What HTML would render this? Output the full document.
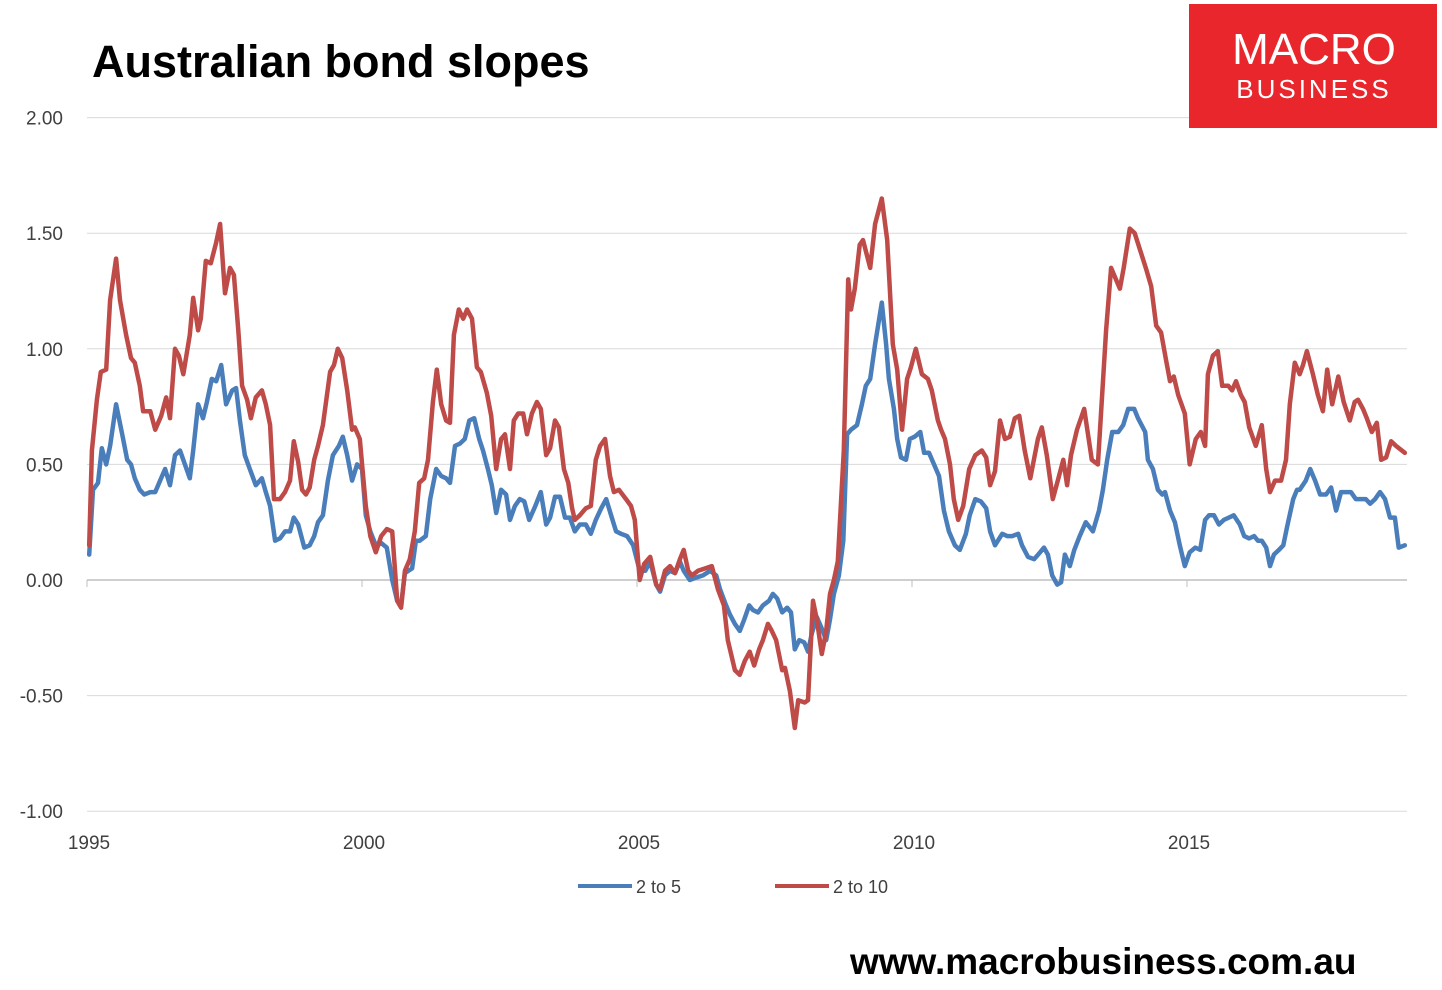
<!DOCTYPE html>
<html><head><meta charset="utf-8"><style>
html,body{margin:0;padding:0;background:#fff;}
body{width:1442px;height:990px;position:relative;overflow:hidden;font-family:"Liberation Sans",sans-serif;}
</style></head><body>
<svg id="chart" width="1442" height="990" xmlns="http://www.w3.org/2000/svg" style="position:absolute;left:0;top:0">
<text x="92" y="77" font-family="Liberation Sans, sans-serif" font-weight="bold" font-size="45" fill="#000">Australian bond slopes</text>
<g id="grid"></g><g id="yaxis"></g><g id="xaxis"></g><g id="series"></g>
<g>
<rect x="1189" y="4" width="248" height="124" fill="#e8262b"/>
<text x="1314" y="64" text-anchor="middle" font-size="44" fill="#fff" font-family="Liberation Sans, sans-serif">MACRO</text>
<text x="1314" y="98" text-anchor="middle" font-size="26" letter-spacing="3" fill="#fff" font-family="Liberation Sans, sans-serif">BUSINESS</text>
</g>
<g>
<line x1="578" y1="886" x2="632" y2="886" stroke="#4a7ebb" stroke-width="4"/>
<text x="636" y="893" font-size="18" fill="#404040">2 to 5</text>
<line x1="775" y1="886" x2="829" y2="886" stroke="#be4b48" stroke-width="4"/>
<text x="833" y="893" font-size="18" fill="#404040">2 to 10</text>
</g>
<text x="850" y="974" font-weight="bold" font-size="37" fill="#000">www.macrobusiness.com.au</text>
</svg>
<script>
const yTicks=[2,1.5,1,0.5,0,-0.5,-1];
const yTickLabels=["2.00","1.50","1.00","0.50","0.00","-0.50","-1.00"];
const xTicks=[1995,2000,2005,2010,2015];
const redDates=[1995.04,1995.09,1995.18,1995.25,1995.35,1995.42,1995.53,1995.60,1995.71,1995.80,1995.87,1995.96,1996.02,1996.15,1996.24,1996.35,1996.44,1996.51,1996.60,1996.67,1996.75,1996.87,1996.93,1997.02,1997.07,1997.16,1997.25,1997.35,1997.42,1997.51,1997.60,1997.67,1997.75,1997.82,1997.91,1997.98,1998.07,1998.18,1998.25,1998.33,1998.40,1998.51,1998.60,1998.69,1998.76,1998.84,1998.91,1998.98,1999.05,1999.13,1999.20,1999.29,1999.42,1999.49,1999.56,1999.64,1999.73,1999.82,1999.87,1999.96,2000.07,2000.15,2000.25,2000.35,2000.45,2000.55,2000.64,2000.71,2000.78,2000.87,2000.96,2001.04,2001.13,2001.20,2001.29,2001.36,2001.44,2001.53,2001.60,2001.67,2001.76,2001.84,2001.91,2002.00,2002.09,2002.16,2002.27,2002.35,2002.44,2002.53,2002.60,2002.69,2002.76,2002.84,2002.93,2003.00,2003.09,2003.18,2003.25,2003.35,2003.42,2003.51,2003.58,2003.67,2003.75,2003.82,2003.87,2003.96,2004.07,2004.16,2004.25,2004.33,2004.42,2004.51,2004.58,2004.67,2004.80,2004.89,2004.96,2005.05,2005.13,2005.24,2005.35,2005.42,2005.51,2005.60,2005.69,2005.78,2005.85,2005.93,2006.00,2006.11,2006.24,2006.36,2006.47,2006.58,2006.65,2006.78,2006.87,2006.96,2007.05,2007.13,2007.22,2007.29,2007.38,2007.45,2007.53,2007.64,2007.69,2007.78,2007.87,2007.93,2008.05,2008.11,2008.20,2008.27,2008.36,2008.44,2008.51,2008.58,2008.65,2008.76,2008.84,2008.89,2008.96,2009.05,2009.11,2009.24,2009.33,2009.45,2009.55,2009.65,2009.73,2009.82,2009.91,2009.98,2010.07,2010.18,2010.29,2010.36,2010.47,2010.53,2010.60,2010.69,2010.76,2010.84,2010.93,2011.04,2011.15,2011.27,2011.35,2011.42,2011.51,2011.60,2011.69,2011.78,2011.87,2011.95,2012.05,2012.15,2012.29,2012.36,2012.45,2012.56,2012.65,2012.75,2012.82,2012.89,2013.00,2013.13,2013.27,2013.38,2013.53,2013.62,2013.78,2013.85,2013.96,2014.05,2014.25,2014.35,2014.44,2014.53,2014.62,2014.69,2014.76,2014.84,2014.96,2015.05,2015.16,2015.25,2015.33,2015.38,2015.47,2015.56,2015.64,2015.75,2015.82,2015.89,2015.98,2016.05,2016.13,2016.25,2016.36,2016.44,2016.51,2016.60,2016.71,2016.80,2016.87,2016.96,2017.05,2017.11,2017.18,2017.29,2017.38,2017.47,2017.55,2017.64,2017.75,2017.85,2017.96,2018.05,2018.11,2018.20,2018.27,2018.36,2018.45,2018.53,2018.62,2018.71,2018.80,2018.96];
const redValues=[0.15,0.56,0.78,0.90,0.91,1.21,1.39,1.21,1.06,0.96,0.94,0.84,0.73,0.73,0.65,0.71,0.79,0.70,1.00,0.97,0.89,1.06,1.22,1.08,1.13,1.38,1.37,1.46,1.54,1.24,1.35,1.32,1.08,0.84,0.78,0.70,0.79,0.82,0.76,0.67,0.35,0.35,0.38,0.43,0.60,0.51,0.39,0.37,0.40,0.52,0.58,0.67,0.90,0.93,1.00,0.96,0.82,0.65,0.66,0.61,0.32,0.19,0.12,0.19,0.22,0.21,-0.09,-0.12,0.04,0.09,0.21,0.42,0.44,0.52,0.77,0.91,0.76,0.69,0.68,1.06,1.17,1.13,1.17,1.13,0.92,0.90,0.81,0.71,0.48,0.61,0.63,0.48,0.69,0.72,0.72,0.63,0.72,0.77,0.74,0.54,0.57,0.69,0.66,0.48,0.42,0.31,0.26,0.28,0.31,0.32,0.52,0.58,0.61,0.45,0.38,0.39,0.35,0.32,0.26,0.00,0.07,0.10,-0.02,-0.04,0.04,0.06,0.03,0.09,0.13,0.04,0.02,0.04,0.05,0.06,-0.04,-0.11,-0.26,-0.39,-0.41,-0.35,-0.31,-0.37,-0.30,-0.26,-0.19,-0.22,-0.26,-0.39,-0.38,-0.48,-0.64,-0.52,-0.53,-0.52,-0.09,-0.17,-0.32,-0.22,-0.06,0.00,0.08,0.56,1.30,1.17,1.26,1.45,1.47,1.35,1.54,1.65,1.47,1.02,0.91,0.65,0.87,0.92,1.00,0.89,0.87,0.82,0.69,0.65,0.61,0.50,0.35,0.26,0.32,0.48,0.54,0.56,0.53,0.41,0.47,0.69,0.61,0.62,0.70,0.71,0.56,0.44,0.61,0.66,0.54,0.35,0.43,0.52,0.41,0.54,0.65,0.74,0.52,0.50,1.08,1.35,1.26,1.35,1.52,1.50,1.35,1.27,1.10,1.07,0.95,0.86,0.88,0.80,0.72,0.50,0.61,0.64,0.58,0.89,0.97,0.99,0.84,0.84,0.82,0.86,0.80,0.77,0.66,0.58,0.67,0.48,0.38,0.43,0.43,0.52,0.76,0.94,0.89,0.93,0.99,0.89,0.80,0.73,0.91,0.76,0.88,0.77,0.69,0.77,0.78,0.74,0.70,0.64,0.68,0.52,0.53,0.60,0.58,0.55];
const blueDates=[1995.04,1995.11,1995.20,1995.27,1995.35,1995.42,1995.53,1995.64,1995.73,1995.80,1995.87,1995.96,1996.04,1996.15,1996.24,1996.33,1996.42,1996.51,1996.60,1996.69,1996.78,1996.87,1996.93,1997.02,1997.11,1997.18,1997.27,1997.35,1997.44,1997.53,1997.64,1997.71,1997.78,1997.87,1997.96,1998.07,1998.18,1998.25,1998.33,1998.42,1998.51,1998.60,1998.69,1998.76,1998.84,1998.95,1999.05,1999.13,1999.20,1999.29,1999.38,1999.47,1999.58,1999.65,1999.73,1999.82,1999.91,2000.00,2000.07,2000.15,2000.25,2000.35,2000.45,2000.55,2000.64,2000.71,2000.78,2000.91,2000.98,2001.05,2001.16,2001.24,2001.35,2001.44,2001.53,2001.60,2001.69,2001.78,2001.87,2001.95,2002.04,2002.13,2002.20,2002.29,2002.36,2002.44,2002.53,2002.62,2002.69,2002.78,2002.87,2002.95,2003.04,2003.15,2003.25,2003.35,2003.42,2003.51,2003.60,2003.69,2003.78,2003.87,2003.96,2004.07,2004.16,2004.25,2004.35,2004.44,2004.53,2004.62,2004.71,2004.82,2004.93,2005.05,2005.15,2005.24,2005.35,2005.42,2005.51,2005.60,2005.69,2005.78,2005.85,2005.96,2006.07,2006.20,2006.33,2006.44,2006.51,2006.62,2006.69,2006.78,2006.87,2006.95,2007.04,2007.11,2007.20,2007.29,2007.40,2007.47,2007.55,2007.64,2007.73,2007.80,2007.87,2007.95,2008.04,2008.11,2008.18,2008.27,2008.36,2008.44,2008.51,2008.58,2008.67,2008.75,2008.82,2008.89,2009.00,2009.09,2009.16,2009.24,2009.33,2009.45,2009.53,2009.58,2009.67,2009.73,2009.80,2009.89,2009.96,2010.05,2010.15,2010.22,2010.31,2010.40,2010.49,2010.58,2010.67,2010.78,2010.87,2010.98,2011.05,2011.15,2011.25,2011.35,2011.42,2011.51,2011.64,2011.73,2011.82,2011.93,2012.00,2012.11,2012.22,2012.33,2012.40,2012.47,2012.55,2012.64,2012.71,2012.78,2012.87,2012.95,2013.05,2013.16,2013.29,2013.40,2013.47,2013.55,2013.64,2013.75,2013.84,2013.93,2014.04,2014.11,2014.24,2014.29,2014.38,2014.47,2014.55,2014.60,2014.69,2014.78,2014.87,2014.96,2015.05,2015.15,2015.24,2015.33,2015.40,2015.49,2015.58,2015.67,2015.76,2015.85,2015.96,2016.04,2016.13,2016.22,2016.29,2016.36,2016.44,2016.51,2016.58,2016.67,2016.75,2016.82,2016.93,2017.00,2017.05,2017.16,2017.24,2017.33,2017.42,2017.53,2017.62,2017.71,2017.80,2017.89,2017.98,2018.07,2018.16,2018.25,2018.33,2018.42,2018.51,2018.60,2018.69,2018.78,2018.85,2018.96];
const blueValues=[0.11,0.39,0.42,0.57,0.50,0.58,0.76,0.63,0.52,0.50,0.44,0.39,0.37,0.38,0.38,0.43,0.48,0.41,0.54,0.56,0.50,0.44,0.56,0.76,0.70,0.77,0.87,0.86,0.93,0.76,0.82,0.83,0.69,0.54,0.48,0.41,0.44,0.38,0.32,0.17,0.18,0.21,0.21,0.27,0.24,0.14,0.15,0.19,0.25,0.28,0.43,0.54,0.58,0.62,0.54,0.43,0.50,0.48,0.28,0.21,0.15,0.16,0.14,0.00,-0.09,-0.11,0.03,0.05,0.17,0.17,0.19,0.35,0.48,0.45,0.44,0.42,0.58,0.59,0.61,0.69,0.70,0.61,0.56,0.48,0.41,0.29,0.39,0.37,0.26,0.32,0.35,0.34,0.26,0.32,0.38,0.24,0.27,0.36,0.36,0.27,0.27,0.21,0.24,0.24,0.20,0.26,0.31,0.35,0.28,0.21,0.20,0.19,0.15,0.04,0.04,0.08,-0.02,-0.05,0.02,0.04,0.03,0.08,0.04,0.00,0.01,0.02,0.04,0.02,-0.04,-0.11,-0.15,-0.19,-0.22,-0.17,-0.11,-0.13,-0.14,-0.11,-0.09,-0.06,-0.08,-0.14,-0.12,-0.14,-0.30,-0.26,-0.27,-0.31,-0.23,-0.16,-0.21,-0.26,-0.17,-0.06,0.02,0.17,0.63,0.65,0.67,0.76,0.84,0.87,1.02,1.20,1.02,0.87,0.74,0.61,0.53,0.52,0.61,0.62,0.64,0.55,0.55,0.50,0.45,0.30,0.21,0.15,0.13,0.20,0.28,0.35,0.34,0.31,0.21,0.15,0.20,0.19,0.19,0.20,0.15,0.10,0.09,0.12,0.14,0.11,0.02,-0.02,-0.01,0.11,0.06,0.13,0.19,0.25,0.21,0.30,0.39,0.52,0.64,0.64,0.67,0.74,0.74,0.70,0.64,0.52,0.48,0.39,0.37,0.38,0.30,0.25,0.15,0.06,0.12,0.14,0.13,0.26,0.28,0.28,0.24,0.26,0.27,0.28,0.24,0.19,0.18,0.19,0.17,0.17,0.14,0.06,0.11,0.13,0.15,0.23,0.35,0.39,0.39,0.43,0.48,0.43,0.37,0.37,0.40,0.30,0.38,0.38,0.38,0.35,0.35,0.35,0.33,0.35,0.38,0.35,0.27,0.27,0.14,0.15,0.19];

const NS='http://www.w3.org/2000/svg';
const X0=87,X1=1407,Y0=1995,Y1=2019;
function xScale(yr){return X0+(yr-Y0)/(Y1-Y0)*(X1-X0);}
function yScale(v){return 580-v*231.2;}
function mk(tag,attrs,parent){const e=document.createElementNS(NS,tag);for(const k in attrs)e.setAttribute(k,attrs[k]);parent.appendChild(e);return e;}
const grid=document.getElementById('grid'),yax=document.getElementById('yaxis'),xax=document.getElementById('xaxis'),ser=document.getElementById('series');
yTicks.forEach((t,i)=>{
  const y=yScale(t);
  if(t!==0){const g=mk('line',{x1:X0,x2:X1,y1:y,y2:y,stroke:'#d9d9d9','stroke-width':1},grid);
  
  }
  const l=mk('text',{x:63,y:y+7,'text-anchor':'end','font-size':19,fill:'#404040'},yax);
  l.textContent=yTickLabels[i];
  
  
});
const ax=mk('line',{x1:X0,x2:X1,y1:yScale(0),y2:yScale(0),stroke:'#bfbfbf','stroke-width':1.5},xax);


xTicks.forEach(t=>{
  const x=xScale(t);
  const tk=mk('line',{x1:x,x2:x,y1:yScale(0),y2:yScale(0)+7,stroke:'#bfbfbf','stroke-width':1},xax);
  
  
  const l=mk('text',{x:x+2,y:849,'text-anchor':'middle','font-size':19,fill:'#404040'},xax);
  l.textContent=String(t);
  
  
});
function drawLine(dates,vals,color,name){
  const d=dates.map((t,i)=>(i?'L':'M')+xScale(t).toFixed(1)+','+yScale(vals[i]).toFixed(1)).join('');
  const p=mk('path',{d:d,fill:'none',stroke:color,'stroke-width':4.5,'stroke-linejoin':'round','stroke-linecap':'round'},ser);
  
  
}
drawLine(blueDates,blueValues,'#4a7ebb','series-2-to-5');
drawLine(redDates,redValues,'#be4b48','series-2-to-10');
</script>
</body></html>
